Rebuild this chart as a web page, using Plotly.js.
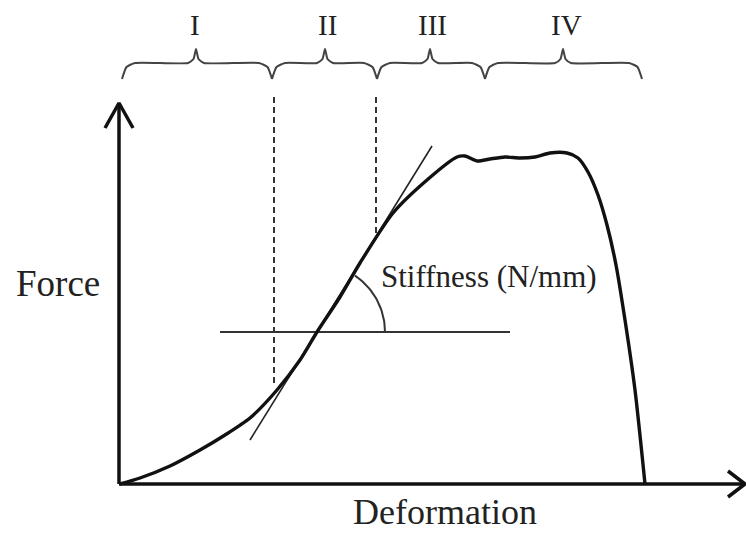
<!DOCTYPE html>
<html>
<head>
<meta charset="utf-8">
<script src="https://cdn.plot.ly/plotly-3.0.1.min.js"></script>
<style>html,body{margin:0;padding:0;background:#fff;}#chart{width:746px;height:535px;}</style>
</head>
<body>
<div id="chart"></div>
<script>
// Schematic force–deformation curve (arbitrary units)
const deformation = [0.2, 4.2, 10.2, 16.2, 21.2, 26.2, 31.6, 36.2, 39.6, 44.2, 48.2, 54.8, 61.6, 67.6, 69.2, 71.6, 74.2, 77.2, 80.2, 83.2, 86.2, 89.6, 91.8, 93.8, 95.8, 97.6, 99.4, 101.2, 103.2, 105.2];
const force       = [0.0, 1.2, 3.6, 6.8, 9.8, 13.2, 18.8, 24.8, 30.4, 37.4, 44.2, 54.2, 60.8, 65.4, 65.6, 64.6, 65.0, 65.4, 65.2, 65.4, 66.2, 66.2, 65.2, 62.4, 57.8, 51.8, 43.8, 32.8, 18.8, 0.0];

// Stiffness tangent line and horizontal reference
const tangentX = [26.2, 62.6];
const tangentY = [8.8, 67.6];
const horizX = [20.2, 78.2];
const horizY = [30.4, 30.4];
const arcCenter = [39.6, 30.4];
const arcRadius = 13.6;
const arcAngleDeg = 56;

// Region boundaries (dashed lines)
const boundaryX = [31.0, 51.4];
const boundaryTop = [77.4, 77.4];
const boundaryBottom = [20.2, 49.4];

// Region braces
const regionLabels = ['I', 'II', 'III', 'IV'];
const regionStart = [0.6, 30.6, 51.6, 73.2];
const regionEnd = [30.6, 51.6, 73.2, 104.6];
const regionCusp = [15.4, 41.2, 62.2, 88.8];
const labelX = [15.2, 41.6, 62.6, 89.4];
const labelY = 91.8;

// Axis extents
const xAxisEnd = 125.2;
const yAxisEnd = 76.2;

const traces = [];
const black = '#111';

// axes
traces.push({x: [0, xAxisEnd], y: [0, 0], mode: 'lines', line: {color: black, width: 3.5}, hoverinfo: 'skip'});
traces.push({x: [0, 0], y: [0, yAxisEnd], mode: 'lines', line: {color: black, width: 3.5}, hoverinfo: 'skip'});
traces.push({x: [xAxisEnd - 3.4, xAxisEnd, xAxisEnd - 3.4], y: [2.6, 0, -2.6], mode: 'lines', line: {color: black, width: 3.5}, hoverinfo: 'skip'});
traces.push({x: [-2.8, 0, 2.8], y: [yAxisEnd - 5, yAxisEnd, yAxisEnd - 5], mode: 'lines', line: {color: black, width: 3.5}, hoverinfo: 'skip'});

// dashed boundaries
for (let i = 0; i < boundaryX.length; i++) {
  traces.push({x: [boundaryX[i], boundaryX[i]], y: [boundaryTop[i], boundaryBottom[i]], mode: 'lines',
    line: {color: '#333', width: 2, dash: '6px,4px'}, hoverinfo: 'skip'});
}

// horizontal reference
traces.push({x: horizX, y: horizY, mode: 'lines', line: {color: '#333', width: 2}, hoverinfo: 'skip'});

// angle arc
const arcX = [], arcY = [];
for (let a = 0; a <= arcAngleDeg; a += 2) {
  const r = a * Math.PI / 180;
  arcX.push(arcCenter[0] + arcRadius * Math.cos(r));
  arcY.push(arcCenter[1] + arcRadius * Math.sin(r));
}
traces.push({x: arcX, y: arcY, mode: 'lines', line: {color: '#333', width: 2}, hoverinfo: 'skip'});

// tangent
traces.push({x: tangentX, y: tangentY, mode: 'lines', line: {color: '#222', width: 1.6}, hoverinfo: 'skip'});

// main curve
traces.push({x: deformation, y: force, mode: 'lines', line: {color: black, width: 3.4, shape: 'spline', smoothing: 0.7}, hoverinfo: 'skip'});

// braces
for (let i = 0; i < regionStart.length; i++) {
  const x0 = regionStart[i], x1 = regionEnd[i], xm = regionCusp[i];
  const bx = [x0, x0 + 0.9, x0 + 2.6, xm - 1.6, xm - 0.5, xm, xm + 0.5, xm + 1.6, x1 - 2.6, x1 - 0.9, x1];
  const by = [81.0, 83.4, 84.2, 84.2, 85.0, 87.0, 85.0, 84.2, 84.2, 83.4, 81.0];
  traces.push({x: bx, y: by, mode: 'lines', line: {color: '#444', width: 2, shape: 'spline', smoothing: 0.5}, hoverinfo: 'skip'});
}

const serif = 'Liberation Serif, Times New Roman, serif';
const annotations = [];
for (let i = 0; i < regionLabels.length; i++) {
  annotations.push({x: labelX[i], y: labelY, text: regionLabels[i], showarrow: false,
    font: {family: serif, size: 29, color: '#222'}, xanchor: 'center', yanchor: 'middle'});
}
annotations.push({x: -12.2, y: 40.2, text: 'Force', showarrow: false, font: {family: serif, size: 37, color: '#222'}, xanchor: 'center', yanchor: 'middle'});
annotations.push({x: 65.2, y: -5.6, text: 'Deformation', showarrow: false, font: {family: serif, size: 36, color: '#222'}, xanchor: 'center', yanchor: 'middle'});
annotations.push({x: 74.0, y: 41.6, text: 'Stiffness (N/mm)', showarrow: false, font: {family: serif, size: 31, color: '#222'}, xanchor: 'center', yanchor: 'middle'});

const layout = {
  width: 746, height: 535,
  margin: {l: 0, r: 0, t: 0, b: 0},
  paper_bgcolor: '#fff', plot_bgcolor: '#fff',
  showlegend: false,
  xaxis: {range: [-23.8, 125.4], visible: false, fixedrange: true},
  yaxis: {range: [-10.2, 96.8], visible: false, fixedrange: true},
  annotations: annotations
};
traces.forEach(t => { t.cliponaxis = false; });
Plotly.newPlot('chart', traces, layout, {displayModeBar: false, staticPlot: true});
</script>
</body>
</html>
